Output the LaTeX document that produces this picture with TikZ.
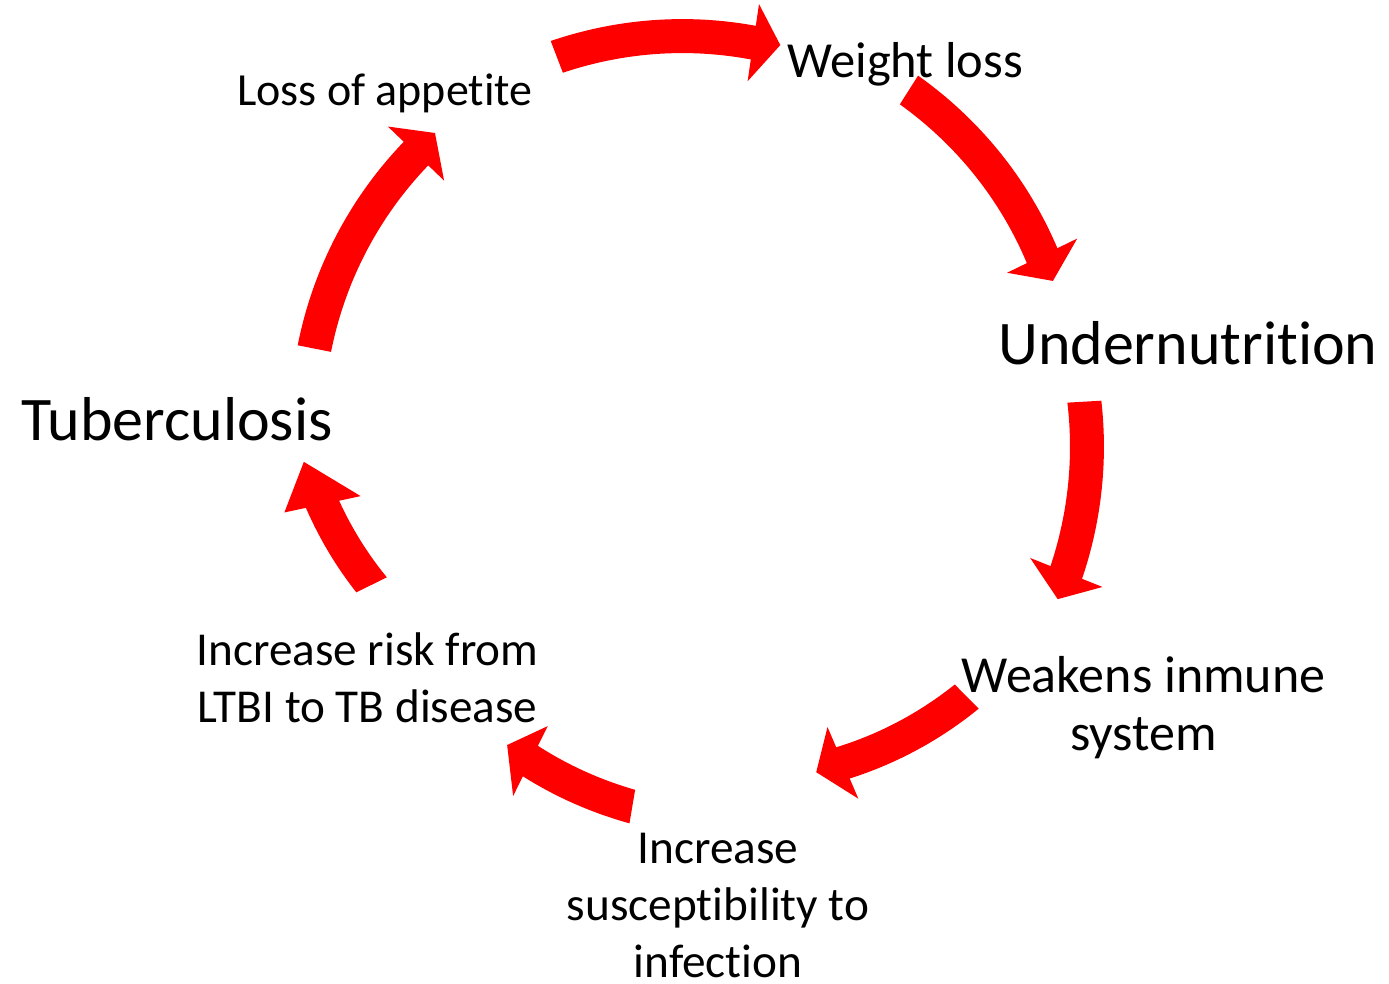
\documentclass[tikz,border=0pt]{standalone}
\usepackage{fontspec}
\setmainfont{Carlito}[Ligatures=NoCommon]
\definecolor{arrowred}{RGB}{255,0,0}
\tikzset{
  lbl/.style={inner sep=0pt, text=black, align=center},
}
% #1 tail angle, #2 head-base angle, #3 tip angle, #4 tail radius, #5 head-base radius, #6 tip radius
\newcommand{\cycarrow}[6]{%
 \fill[arrowred]
  plot[domain=#1:#2, samples=40, variable=\t]
   ({697+((#4)+((#5)-(#4))*(\t-(#1))/((#2)-(#1))+17)*cos(\t)},
    {424+((#4)+((#5)-(#4))*(\t-(#1))/((#2)-(#1))+17)*sin(\t)})
  -- ({697+((#5)+39)*cos(#2)},{424+((#5)+39)*sin(#2)})
  -- ({697+(#6)*cos(#3)},{424+(#6)*sin(#3)})
  -- ({697+((#5)-39)*cos(#2)},{424+((#5)-39)*sin(#2)})
  -- plot[domain=#2:#1, samples=40, variable=\t]
   ({697+((#4)+((#5)-(#4))*(\t-(#1))/((#2)-(#1))-17)*cos(\t)},
    {424+((#4)+((#5)-(#4))*(\t-(#1))/((#2)-(#1))-17)*sin(\t)})
  -- cycle;
}
\begin{document}
\begin{tikzpicture}[x=1pt,y=-1pt]
\useasboundingbox[fill=white] (0,0) rectangle (1389,984);
% arrows
\cycarrow{-110.9}{-81.6}{-77.6}{393}{385.5}{388}
\cycarrow{-57.6}{-26.0}{-21.9}{395.6}{384}{383.6}
\cycarrow{-3.3}{21.9}{25.9}{388}{398}{401}
\cycarrow{45.3}{66.7}{71.1}{383.5}{369}{368}
\cycarrow{99.6}{116.3}{120.6}{388}{376}{373}
\cycarrow{153.7}{167.9}{174.5}{363}{383}{395}
\cycarrow{191.15}{223.9}{228}{390}{390}{391.6}
% labels
\node[lbl, anchor=base west, font=\fontsize{46}{57.5}\selectfont] (lossapp) at (237,106) {Loss of appetite};
\node[lbl, anchor=base west, font=\fontsize{50.5}{57.5}\selectfont] (weight) at (787,78) {Weight loss};
\node[lbl, anchor=base west, font=\fontsize{62}{70}\selectfont] (undernut) at (998,364) {Undernutrition};
\node[lbl, anchor=base west, font=\fontsize{62}{70}\selectfont] (tb) at (21,440) {Tuberculosis};
\node[lbl, anchor=base, font=\fontsize{52}{58}\selectfont] (weakens) at (1143.5,750) {Weakens inmune\\system};
\node[lbl, anchor=base, font=\fontsize{47.2}{57.5}\selectfont] (risk) at (367.5,722.5) {Increase risk from\\LTBI to TB disease};
\node[lbl, anchor=base, font=\fontsize{47.3}{57}\selectfont] (suscept) at (718,977) {Increase\\susceptibility to\\infection};
\end{tikzpicture}
\end{document}
